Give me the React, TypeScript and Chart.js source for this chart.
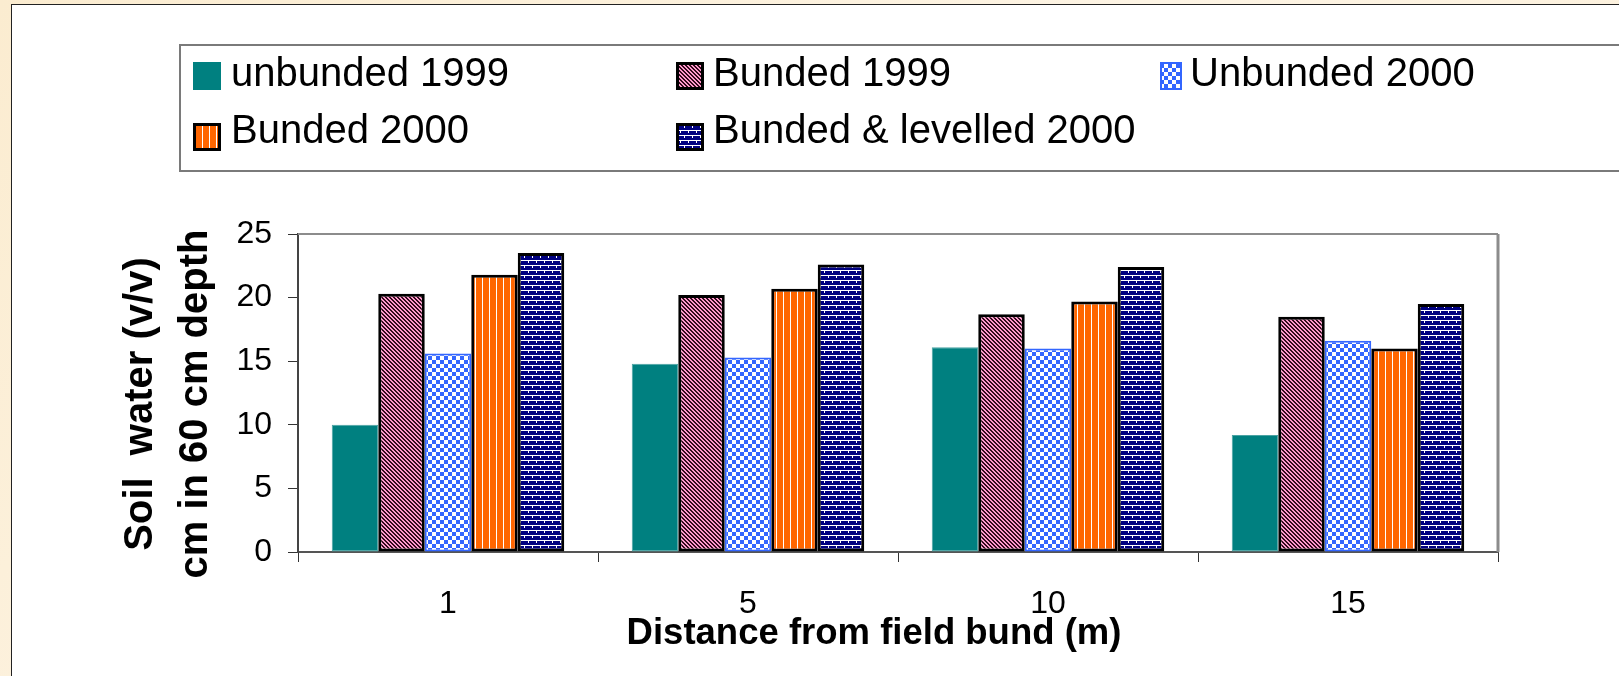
import React, { useEffect, useRef } from 'react';
import { Chart, registerables } from 'chart.js';

Chart.register(...registerables);

// ---- data ----
const categories = ['1', '5', '10', '15'];
const seriesNames = ['unbunded 1999', 'Bunded 1999', 'Unbunded 2000', 'Bunded 2000', 'Bunded & levelled 2000'];
const unbunded1999 = [10.0, 14.8, 16.1, 9.2];
const bunded1999 = [20.3, 20.2, 18.7, 18.5];
const unbunded2000 = [15.6, 15.3, 16.0, 16.6];
const bunded2000 = [21.8, 20.7, 19.7, 16.0];
const bundedLevelled2000 = [23.5, 22.6, 22.4, 19.5];
const yTickValues = [0, 5, 10, 15, 20, 25];
const xTitle = 'Distance from field bund (m)';
const yTitle = ['Soil  water (v/v)', 'cm in 60 cm depth'];

const FONT = '"Liberation Sans", Arial, Helvetica, sans-serif';
const X_TITLE_SHIFT = -24;
const Y_TITLE_SHIFT = 11;

function tile(ctx: CanvasRenderingContext2D, w: number, h: number, draw: (g: CanvasRenderingContext2D) => void) {
  const c = document.createElement('canvas');
  c.width = w;
  c.height = h;
  const g = c.getContext('2d')!;
  draw(g);
  return ctx.createPattern(c, 'repeat')!;
}

function makePatterns(ctx: CanvasRenderingContext2D) {
  const pink = tile(ctx, 4, 4, (g) => {
    g.fillStyle = '#ff99cc';
    g.fillRect(0, 0, 4, 4);
    g.fillStyle = '#330a1c';
    for (let y = 0; y < 4; y++) {
      for (let x = 0; x < 4; x++) {
        if (((x - y + 8) % 4) < 2) g.fillRect(x, y, 1, 1);
      }
    }
  });
  const checker = tile(ctx, 8, 8, (g) => {
    g.fillStyle = '#ffffff';
    g.fillRect(0, 0, 8, 8);
    g.fillStyle = '#3366ff';
    g.fillRect(0, 0, 4, 4);
    g.fillRect(4, 4, 4, 4);
  });
  const stripes = tile(ctx, 7, 1, (g) => {
    g.fillStyle = '#ff6600';
    g.fillRect(0, 0, 7, 1);
    g.fillStyle = '#ffffff';
    g.fillRect(6, 0, 1, 1);
  });
  const brick = tile(ctx, 8, 10, (g) => {
    g.fillStyle = '#000080';
    g.fillRect(0, 0, 8, 10);
    g.fillStyle = '#ffffff';
    g.fillRect(0, 0, 8, 1);
    g.fillRect(0, 5, 8, 1);
    g.fillRect(0, 1, 1, 2);
    g.fillRect(4, 6, 1, 2);
  });
  return { pink, checker, stripes, brick };
}

function shiftTitle(scale: any, dx: number, dy: number) {
  if (scale.__shifted) return;
  const orig = scale.drawTitle;
  scale.drawTitle = function (this: any) {
    const c = this.ctx;
    c.save();
    c.translate(dx, dy);
    orig.call(this);
    c.restore();
  };
  scale.__shifted = true;
}

const framePlugin = {
  id: 'plotFrame',
  beforeDatasetsDraw(chart: any) {
    const { ctx, chartArea } = chart;
    ctx.save();
    ctx.strokeStyle = '#8c8c8c';
    ctx.lineWidth = 2;
    ctx.beginPath();
    ctx.moveTo(chartArea.left, chartArea.top);
    ctx.lineTo(chartArea.right, chartArea.top);
    ctx.stroke();
    ctx.lineWidth = 3;
    ctx.beginPath();
    ctx.moveTo(chartArea.right, chartArea.top);
    ctx.lineTo(chartArea.right, chartArea.bottom);
    ctx.stroke();
    ctx.restore();
  },
};

// legend layout (positions only)
const legendSlots = [
  { bx: 193, by: 62, bw: 28, bh: 28, tx: 231, ty: 86 },
  { bx: 676, by: 62, bw: 28, bh: 28, tx: 713, ty: 86 },
  { bx: 1160, by: 62, bw: 22, bh: 28, tx: 1190, ty: 86 },
  { bx: 193, by: 123, bw: 28, bh: 28, tx: 231, ty: 143 },
  { bx: 676, by: 123, bw: 28, bh: 28, tx: 713, ty: 143 },
];

const legendPlugin = {
  id: 'gridLegend',
  afterDraw(chart: any) {
    const { ctx } = chart;
    ctx.save();
    ctx.strokeStyle = '#7a7a7a';
    ctx.lineWidth = 2;
    ctx.strokeRect(180, 45, 1500, 126);
    ctx.font = `40px ${FONT}`;
    ctx.textBaseline = 'alphabetic';
    ctx.textAlign = 'left';
    chart.data.datasets.forEach((ds: any, i: number) => {
      const s = legendSlots[i];
      ctx.fillStyle = ds.backgroundColor;
      ctx.fillRect(s.bx, s.by, s.bw, s.bh);
      const bw = ds.legendBorder;
      if (bw > 0) {
        ctx.strokeStyle = ds.borderColor;
        ctx.lineWidth = bw;
        ctx.strokeRect(s.bx + bw / 2, s.by + bw / 2, s.bw - bw, s.bh - bw);
      }
      ctx.fillStyle = '#000';
      ctx.fillText(ds.label, s.tx, s.ty);
    });
    ctx.restore();
  },
};

export default function App() {
  const ref = useRef<HTMLCanvasElement>(null);

  useEffect(() => {
    const canvas = ref.current!;
    const ctx = canvas.getContext('2d')!;
    const p = makePatterns(ctx);

    const chart = new Chart(canvas, {
      type: 'bar',
      data: {
        labels: categories,
        datasets: [
          { label: seriesNames[0], data: unbunded1999, backgroundColor: '#008080', borderColor: '#4aa3a3', borderWidth: 1, legendBorder: 0 } as any,
          { label: seriesNames[1], data: bunded1999, backgroundColor: p.pink, borderColor: '#000000', borderWidth: 3, legendBorder: 3 } as any,
          { label: seriesNames[2], data: unbunded2000, backgroundColor: p.checker, borderColor: '#3366ff', borderWidth: 2, legendBorder: 2 } as any,
          { label: seriesNames[3], data: bunded2000, backgroundColor: p.stripes, borderColor: '#000000', borderWidth: 3, legendBorder: 3 } as any,
          { label: seriesNames[4], data: bundedLevelled2000, backgroundColor: p.brick, borderColor: '#000000', borderWidth: 3, legendBorder: 3 } as any,
        ],
      },
      options: {
        responsive: false,
        animation: false,
        devicePixelRatio: 1,
        layout: { padding: { left: 98, right: 121, top: 234, bottom: 0 } },
        datasets: {
          bar: { categoryPercentage: 0.775, barPercentage: 1.0, borderSkipped: false },
        },
        plugins: {
          legend: { display: false },
          tooltip: { enabled: false },
        },
        scales: {
          x: {
            grid: { display: true, drawOnChartArea: false, drawTicks: true, tickLength: 10, color: '#333333', offset: true },
            border: { display: true, color: '#555555', width: 2 },
            ticks: { color: '#000', font: { family: FONT, size: 32 }, padding: 23, maxRotation: 0 },
            title: { display: true, text: xTitle, color: '#000', font: { family: FONT, size: 36.5, weight: 'bold', lineHeight: 1.2 }, padding: { top: 0, bottom: 20 } },
            afterFit(scale: any) {
              scale.height = 124;
              shiftTitle(scale, X_TITLE_SHIFT, 0);
            },
          },
          y: {
            min: 0,
            max: 25,
            afterBuildTicks(scale: any) { scale.ticks = yTickValues.map((v) => ({ value: v })); },
            grid: { display: true, drawOnChartArea: false, drawTicks: true, tickLength: 10, color: '#333333' },
            border: { display: true, color: '#444444', width: 2 },
            ticks: { color: '#000', font: { family: FONT, size: 32 }, padding: 16 },
            title: { display: true, text: yTitle, color: '#000', font: { family: FONT, size: 40, weight: 'bold', lineHeight: 1.375 }, padding: { top: 15, bottom: 0 } },
            afterFit(scale: any) {
              scale.width = 200;
              shiftTitle(scale, 0, Y_TITLE_SHIFT);
            },
          },
        },
      },
      plugins: [framePlugin, legendPlugin],
    } as any);

    return () => chart.destroy();
  }, []);

  return (
    <div
      style={{
        position: 'absolute',
        left: 0,
        top: 0,
        width: 1619,
        height: 676,
        overflow: 'hidden',
        background: 'linear-gradient(135deg, #fbecd0 0%, #fdf4e4 50%, #fbeed6 100%)',
      }}
    >
      <div
        style={{
          position: 'absolute',
          left: 11,
          top: 4,
          width: 1650,
          height: 720,
          background: '#ffffff',
          border: '1.5px solid #222222',
          boxSizing: 'border-box',
        }}
      />
      <canvas
        ref={ref}
        width={1619}
        height={676}
        style={{ position: 'absolute', left: 0, top: 0, width: 1619, height: 676, display: 'block' }}
      />
    </div>
  );
}
